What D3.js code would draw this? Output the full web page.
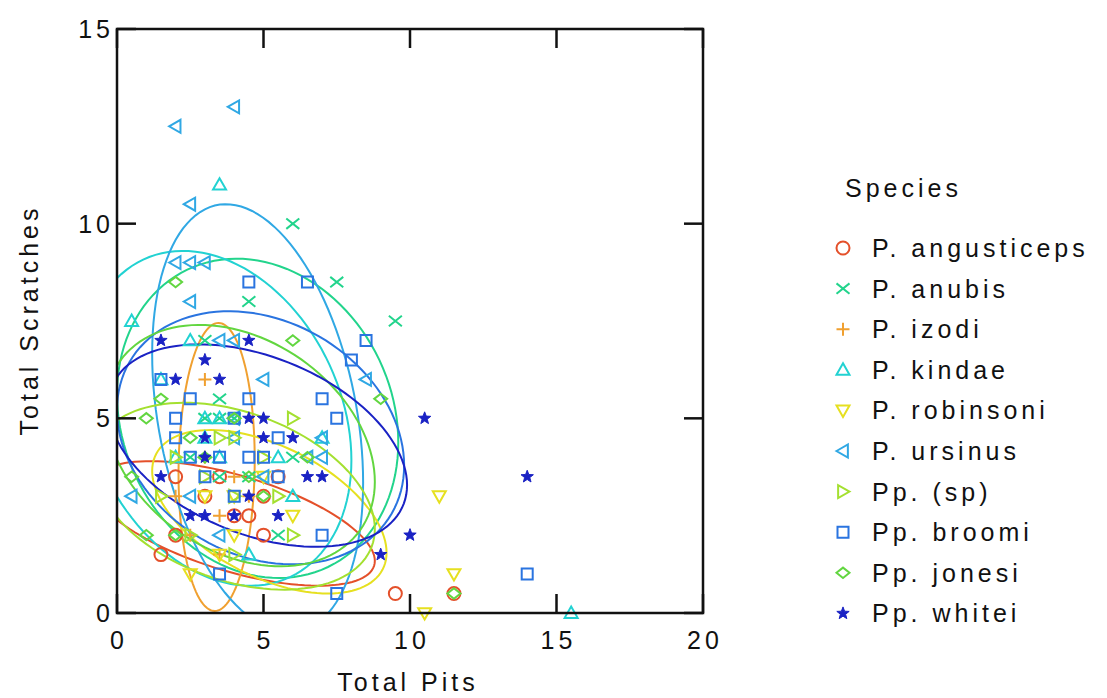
<!DOCTYPE html>
<html><head><meta charset="utf-8">
<script src="https://cdn.jsdelivr.net/npm/d3@7"></script>
<style>
html,body{margin:0;padding:0;background:#fff;}
text{font-family:"Liberation Sans",Arial,sans-serif;fill:#111;}
</style></head><body>
<svg id="chart" width="1107" height="698"></svg>
<script>
// ---------------- data ----------------
const species = ["P. angusticeps","P. anubis","P. izodi","P. kindae","P. robinsoni","P. ursinus","Pp. (sp)","Pp. broomi","Pp. jonesi","Pp. whitei"];
const speciesColors = ["#e4502a","#22d48c","#f0a030","#22d2d2","#e6e020","#30a8e4","#a4e030","#2a74e0","#62d640","#1a22c4"];
const speciesShapes = ["circle","x","plus","triUp","triDown","triLeft","triRight","square","diamond","star"];

const xTicks = [0,5,10,15,20];
const yTicks = [0,5,10,15];

const angusticeps = [[2,3.5],[3,3],[4.5,2.5],[2,2],[1.5,1.5],[5.5,3.5],[5,3],[5,2],[9.5,0.5],[11.5,0.5],[3.5,3.5],[4,2.5]];
const anubis = [[6,10],[7.5,8.5],[9.5,7.5],[4.5,8],[3.5,5.5],[3.5,5],[3,5],[4,5],[5.5,2],[2.5,4],[3.5,3.5],[4.5,3.5],[6,4],[3,7]];
const izodi = [[3,6],[4,3.5],[2.5,2],[3.5,2.5],[4.5,3],[2,3],[3.5,1.5],[3,4]];
const kindae = [[3.5,11],[0.5,7.5],[3,5],[3,4.5],[3.5,4],[5.5,4],[7,4.5],[15.5,0],[2.5,7],[2,4],[4.5,1.5],[3.5,5],[6,3],[1.5,6]];
const robinsoni = [[11,3],[11.5,1],[10.5,0],[3,3],[4,2],[3.5,1.5],[2.5,1],[6,2.5],[5,3.5],[4,3]];
const ursinus = [[4,13],[2,12.5],[2.5,10.5],[2,9],[2.5,9],[3,9],[2.5,8],[3.5,7],[4,7],[0.5,3],[2.5,3],[7,4.5],[7,4],[8.5,6],[6.5,4],[4,5],[3.5,2],[5,6],[4,4.5],[5,3.5]];
const ppSp = [[3.5,4.5],[4,4.5],[5,4],[2,4],[3,3.5],[4,3],[5.5,3],[2.5,2],[1.5,3],[6,2],[4,1.5],[6,5]];
const broomi = [[1.5,6],[2,5],[2,4.5],[2.5,5.5],[2.5,4],[3,3.5],[3.5,4],[3.5,1],[4,3],[4.5,5.5],[4.5,4],[4.5,8.5],[5,4],[5.5,4.5],[5.5,3.5],[6.5,8.5],[7,5.5],[7,2],[7.5,5],[7.5,0.5],[8,6.5],[8.5,7],[14,1],[4,5]];
const jonesi = [[2,8.5],[6,7],[1.5,5.5],[1,5],[2.5,4.5],[6.5,4],[0.5,3.5],[3,4],[4,5],[5,3],[11.5,0.5],[2,2],[4.5,3.5],[1,2],[9,5.5]];
const whitei = [[1.5,7],[2,6],[3,6.5],[3.5,6],[4.5,7],[4.5,5],[5,5],[3,4.5],[5,4.5],[6,4.5],[3,4],[1.5,3.5],[4.5,3],[6.5,3.5],[7,3.5],[2.5,2.5],[3,2.5],[4,2.5],[5.5,2.5],[9,1.5],[10,2],[10.5,5],[14,3.5]];
const speciesPoints = [angusticeps,anubis,izodi,kindae,robinsoni,ursinus,ppSp,broomi,jonesi,whitei];

// ellipse (confidence region) parameters per species
const ellipseCenterX = [4.0, 4.8, 3.4, 3.4, 5.2, 4.8, 4.0, 4.9, 4.2, 4.8];
const ellipseCenterY = [2.3, 5.0, 3.75, 5.0, 2.6, 5.0, 3.0, 4.5, 4.3, 4.3];
const ellipseHalfX   = [4.8, 4.8, 1.3, 4.6, 4.0, 3.6, 4.8, 4.9, 4.6, 5.1];
const ellipseHalfY   = [1.6, 4.1, 3.7, 4.3, 2.1, 5.5, 2.4, 3.25, 3.1, 2.6];
const ellipseRho     = [-0.6, -0.15, 0.05, -0.25, -0.5, -0.3, -0.35, -0.22, -0.3, -0.39];

// ---------------- chart ----------------
const svg = d3.select("#chart");
const L = 117, R = 703, T = 29, B = 613;
const x = d3.scaleLinear().domain([0,20]).range([L,R]);
const y = d3.scaleLinear().domain([0,15]).range([B,T]);

svg.append("defs").append("clipPath").attr("id","plotclip")
  .append("rect").attr("x",L).attr("y",T).attr("width",R-L).attr("height",B-T);

// ellipses
const ell = svg.append("g").attr("clip-path","url(#plotclip)");
species.forEach((s,i)=>{
  const pts = d3.range(0,361,3).map(a=>{
    const t = a*Math.PI/180;
    const px = ellipseCenterX[i] + ellipseHalfX[i]*Math.cos(t);
    const py = ellipseCenterY[i] + ellipseHalfY[i]*(ellipseRho[i]*Math.cos(t) + Math.sqrt(1-ellipseRho[i]*ellipseRho[i])*Math.sin(t));
    return [x(px), y(py)];
  });
  ell.append("path").attr("d", d3.line()(pts)+"Z")
    .attr("fill","none").attr("stroke",speciesColors[i]).attr("stroke-width",2);
});

// symbol shapes
const shapeTypes = {
  circle:{draw(c,r){c.moveTo(r,0);c.arc(0,0,r,0,2*Math.PI);}},
  x:{draw(c,r){c.moveTo(-r,-r*0.8);c.lineTo(r,r*0.8);c.moveTo(-r,r*0.8);c.lineTo(r,-r*0.8);}},
  plus:{draw(c,r){c.moveTo(-r,0);c.lineTo(r,0);c.moveTo(0,-r);c.lineTo(0,r);}},
  triUp:{draw(c,r){c.moveTo(0,-r);c.lineTo(r,r*0.75);c.lineTo(-r,r*0.75);c.closePath();}},
  triDown:{draw(c,r){c.moveTo(0,r);c.lineTo(r,-r*0.75);c.lineTo(-r,-r*0.75);c.closePath();}},
  triLeft:{draw(c,r){c.moveTo(-r,0);c.lineTo(r*0.75,-r);c.lineTo(r*0.75,r);c.closePath();}},
  triRight:{draw(c,r){c.moveTo(r,0);c.lineTo(-r*0.75,-r);c.lineTo(-r*0.75,r);c.closePath();}},
  square:{draw(c,r){c.rect(-r,-r,2*r,2*r);}},
  diamond:{draw(c,r){c.moveTo(0,-r*0.8);c.lineTo(r,0);c.lineTo(0,r*0.8);c.lineTo(-r,0);c.closePath();}},
  star:{draw(c,r){for(let k=0;k<10;k++){const rr=k%2?r*0.42:r*1.0;const a=-Math.PI/2+k*Math.PI/5;const px=rr*Math.cos(a),py=rr*Math.sin(a);k?c.lineTo(px,py):c.moveTo(px,py);}c.closePath();}}
};
function symPath(shape){ return d3.symbol().type(shapeTypes[shape]).size(shape==="square"?5.5:6.5)(); }

// points
const ptsG = svg.append("g");
species.forEach((s,i)=>{
  const filled = speciesShapes[i]==="star";
  ptsG.append("g").selectAll("path").data(speciesPoints[i]).join("path")
    .attr("transform",d=>`translate(${x(d[0])},${y(d[1])})`)
    .attr("d",symPath(speciesShapes[i]))
    .attr("fill",filled?speciesColors[i]:"none")
    .attr("stroke",speciesColors[i]).attr("stroke-width",filled?1:2);
});

// frame and inward ticks
const frame = svg.append("g").attr("stroke","#111").attr("stroke-width",2.5).attr("fill","none");
frame.append("rect").attr("x",L).attr("y",T).attr("width",R-L).attr("height",B-T);
const tl = 19;
xTicks.forEach(v=>{
  frame.append("line").attr("x1",x(v)).attr("x2",x(v)).attr("y1",B).attr("y2",B-tl);
  frame.append("line").attr("x1",x(v)).attr("x2",x(v)).attr("y1",T).attr("y2",T+tl);
});
yTicks.forEach(v=>{
  frame.append("line").attr("x1",L).attr("x2",L+tl).attr("y1",y(v)).attr("y2",y(v));
  frame.append("line").attr("x1",R).attr("x2",R-tl).attr("y1",y(v)).attr("y2",y(v));
});

const fs = 25, ls = 4;
const lab = svg.append("g").style("font-size",fs+"px").style("letter-spacing",ls+"px");
xTicks.forEach(v=>{
  lab.append("text").attr("x",x(v)+ls/2).attr("y",649).attr("text-anchor","middle").text(d3.format("d")(v));
});
yTicks.forEach(v=>{
  lab.append("text").attr("x",114).attr("y",y(v)+9).attr("text-anchor","end").text(d3.format("d")(v));
});
lab.append("text").attr("x",408).attr("y",691).attr("text-anchor","middle").text("Total Pits");
lab.append("text").attr("transform","translate(38,320) rotate(-90)").attr("text-anchor","middle").text("Total Scratches");

// legend
const leg = svg.append("g");
leg.append("text").attr("x",845).attr("y",197).style("font-size",fs+"px").style("letter-spacing",ls+"px").text("Species");
species.forEach((s,i)=>{
  const cy = 248 + i*40.6;
  leg.append("path").attr("transform",`translate(843,${cy})`).attr("d",symPath(speciesShapes[i]))
    .attr("fill",speciesShapes[i]==="star"?speciesColors[i]:"none")
    .attr("stroke",speciesColors[i]).attr("stroke-width",speciesShapes[i]==="star"?1:2);
  leg.append("text").attr("x",872).attr("y",cy+9).style("font-size",fs+"px").style("letter-spacing",ls+"px").text(s);
});
</script>
</body></html>
